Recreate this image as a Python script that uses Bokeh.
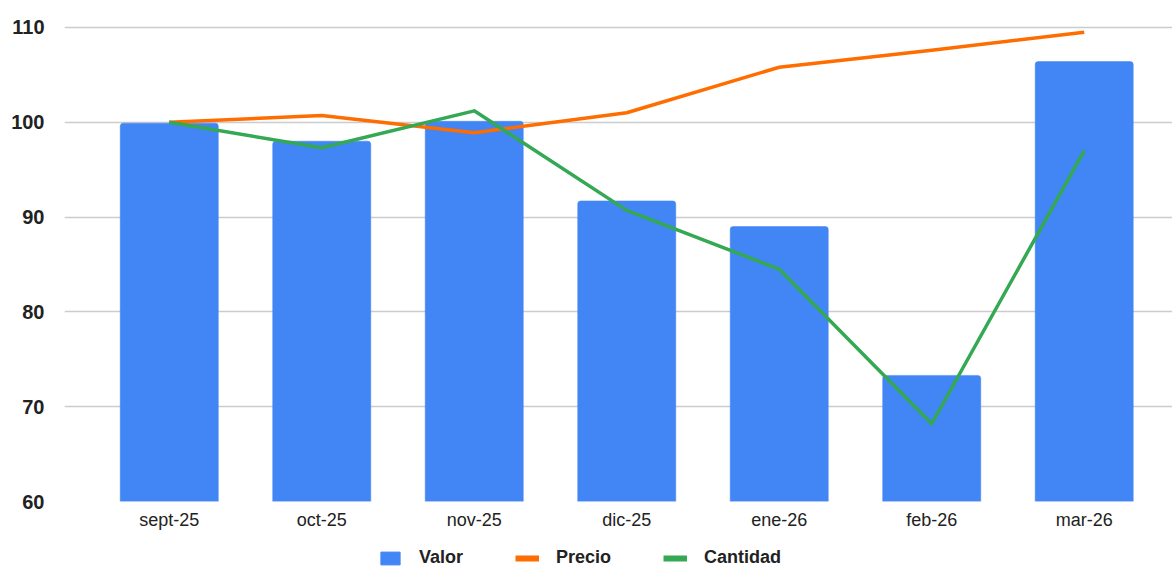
from bokeh.plotting import figure
from bokeh.models import Range1d, FixedTicker, Legend, LegendItem, ColumnDataSource
from bokeh.layouts import column
from bokeh.embed import file_html
from bokeh.resources import INLINE

categories = ["sept-25", "oct-25", "nov-25", "dic-25", "ene-26", "feb-26", "mar-26"]
valor = [99.9, 98.0, 100.1, 91.7, 89.0, 73.3, 106.4]
precio = [100.0, 100.7, 98.9, 101.0, 105.8, 107.6, 109.5]
cantidad = [100.0, 97.3, 101.2, 90.7, 84.5, 68.2, 97.0]
series_names = ["Valor", "Precio", "Cantidad"]
y_ticks = [60, 70, 80, 90, 100, 110]

BLUE = "#4285F4"
ORANGE = "#FF6D01"
GREEN = "#34A853"
FONT = "Liberation Sans"

idx = list(range(len(categories)))
src = ColumnDataSource(dict(x=idx, cat=categories, valor=valor, precio=precio, cantidad=cantidad))

p = figure(width=1172, height=532,
           x_range=Range1d(-0.687, 6.579), y_range=Range1d(60, 110.2),
           output_backend="svg", toolbar_location=None,
           min_border_left=64, min_border_right=0, min_border_top=25, min_border_bottom=22)
p.outline_line_color = None
p.background_fill_color = "white"
p.border_fill_color = "white"

p.vbar(x="x", top="valor", bottom=60, width=0.643, source=src,
       fill_color=BLUE, line_color=BLUE, line_width=0.5, border_radius=(3, 3, 0, 0))
p.line(x="x", y="precio", source=src, line_color=ORANGE, line_width=3.5, line_join="round")
p.line(x="x", y="cantidad", source=src, line_color=GREEN, line_width=3.5, line_join="round")

# axes
p.xaxis.ticker = FixedTicker(ticks=idx)
p.xaxis.major_label_overrides = {i: c for i, c in zip(idx, categories)}
p.yaxis.ticker = FixedTicker(ticks=y_ticks)
for ax in (p.xaxis, p.yaxis):
    ax.axis_line_color = None
    ax.major_tick_line_color = None
    ax.minor_tick_line_color = None
    ax.major_label_text_font = FONT
    ax.major_label_text_color = "#222222"
p.xaxis.major_label_text_font_size = "18px"
p.xaxis.major_label_standoff = 2
p.yaxis.major_label_text_font_size = "20px"
p.yaxis.major_label_text_font_style = "bold"
p.yaxis.major_label_standoff = 14

p.xgrid.grid_line_color = None
p.ygrid.ticker = FixedTicker(ticks=y_ticks)
p.ygrid.grid_line_color = "#cccccc"
p.ygrid.grid_line_width = 1.5

# legend strip below the chart (series drawn out of view, only legend shows)
lg = figure(width=1172, height=36, x_range=Range1d(-100, -99), y_range=Range1d(0, 1),
            output_backend="svg", toolbar_location=None,
            x_axis_location=None, y_axis_location=None,
            min_border_left=0, min_border_right=0, min_border_top=0, min_border_bottom=0)
lg.grid.visible = False
lg.outline_line_color = None
lg.border_fill_color = "white"
lg.background_fill_color = "white"
r_v = lg.vbar(x="x", top="valor", width=0.5, source=src, fill_color=BLUE, line_color=BLUE)
r_p = lg.line(x="x", y="precio", source=src, line_color=ORANGE, line_width=6)
r_c = lg.line(x="x", y="cantidad", source=src, line_color=GREEN, line_width=6)

legend = Legend(items=[LegendItem(label=series_names[0], renderers=[r_v]),
                       LegendItem(label=series_names[1], renderers=[r_p]),
                       LegendItem(label=series_names[2], renderers=[r_c])],
                orientation="horizontal", location=(314, 0),
                label_text_font=FONT, label_text_font_style="bold",
                label_text_font_size="18px", label_text_color="#222222",
                glyph_width=24, glyph_height=16, label_standoff=17, spacing=52,
                padding=0, margin=0, border_line_color=None,
                background_fill_alpha=0)
lg.add_layout(legend, "center")

layout = column(p, lg, spacing=0)
open("out.html", "w").write(file_html(layout, INLINE))
